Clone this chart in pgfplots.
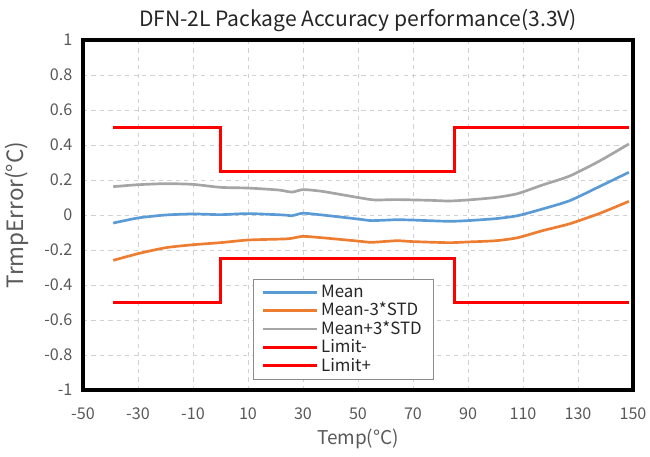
\documentclass[border=0pt]{standalone}
\usepackage{fontspec}
\setmainfont{Noto Sans CJK SC}
\usepackage{pgfplots}
\pgfplotsset{compat=1.18}
\definecolor{cmean}{HTML}{5B9BD5}
\definecolor{clow}{HTML}{ED7D31}
\definecolor{chigh}{HTML}{A5A5A5}
\definecolor{txt}{HTML}{595959}

\begin{document}
\begin{tikzpicture}[x=0.025cm,y=0.025cm]
\begin{axis}[
  name=ax,
  width=13.75cm, height=8.75cm, scale only axis,
  xmin=-50, xmax=150, ymin=-1, ymax=1,
  xtick={-50,-30,...,150},
  ytick={-1,-0.8,...,1.01},
  /pgf/number format/assume math mode=true,
  yticklabel style={/pgf/number format/fixed, /pgf/number format/precision=1, xshift=-4pt},
  xticklabel style={yshift=-9pt},
  tick label style={font=\fontsize{11.5}{13}\selectfont, text=txt},
  major tick length=0pt,
  grid=major,
  grid style={dashed, color=black!18},
  axis line style={line width=2.6pt, black},
  title={DFN-2L Package Accuracy performance(3.3V)},
  title style={font=\fontsize{15}{17}\selectfont, text=black!85, yshift=-4pt},
  xlabel={Temp(°C)},
  ylabel={TrmpError(°C)},
  xlabel style={font=\fontsize{13.5}{15}\selectfont, text=txt, yshift=0pt},
  ylabel style={font=\fontsize{16}{18}\selectfont, text=txt, yshift=4pt},
  legend style={at={(0.309,0.317)}, anchor=north west, draw=black!45,
    font=\fontsize{12}{12}\selectfont, text=black!85, row sep=-1.8pt,
    inner xsep=6pt, inner ysep=2pt},
  legend cell align=left,
  legend image code/.code={\draw[#1] (0cm,0cm) -- (1.35cm,0cm);},
  every axis plot/.append style={line width=1.9pt},
]
\addplot[cmean, smooth, tension=0.4] coordinates {
 (-39,-0.046) (-30,-0.017) (-20,0.0) (-10,0.006) (0,0.002) (10,0.008)
 (23,0.0) (26,-0.004) (30,0.01) (37,0.0) (50,-0.023) (55,-0.032)
 (64,-0.027) (70,-0.029) (83,-0.036) (90,-0.032) (100,-0.021)
 (108,-0.004) (117,0.034) (127,0.082) (138,0.164) (148.5,0.244)
};
\addlegendentry{Mean}
\addplot[clow, smooth, tension=0.4] coordinates {
 (-39,-0.259) (-30,-0.221) (-20,-0.187) (-10,-0.17) (0,-0.158) (10,-0.143)
 (23,-0.137) (26,-0.133) (30,-0.122) (37,-0.13) (50,-0.149) (55,-0.156)
 (64,-0.147) (70,-0.152) (83,-0.158) (90,-0.154) (100,-0.147)
 (108,-0.13) (117,-0.09) (127,-0.05) (138,0.01) (148.5,0.078)
};
\addlegendentry{Mean-3*STD}
\addplot[chigh, smooth, tension=0.4] coordinates {
 (-39,0.162) (-30,0.173) (-20,0.179) (-10,0.175) (0,0.158) (10,0.154)
 (21,0.143) (26,0.131) (30,0.145) (37,0.135) (50,0.10) (56,0.086)
 (64,0.088) (76,0.084) (83,0.08) (90,0.086) (100,0.10)
 (108,0.122) (117,0.171) (127,0.223) (138,0.31) (148.5,0.406)
};
\addlegendentry{Mean+3*STD}
\addplot[red] coordinates {
 (-39,-0.5) (0,-0.5) (0,-0.25) (85,-0.25) (85,-0.5) (148.5,-0.5)
};
\addlegendentry{Limit-}
\addplot[red] coordinates {
 (-39,0.5) (0,0.5) (0,0.25) (85,0.25) (85,0.5) (148.5,0.5)
};
\addlegendentry{Limit+}
\end{axis}
\pgfresetboundingbox
\path[use as bounding box] ([shift={(-83,-67)}]ax.south west) rectangle ([shift={(17,40)}]ax.north east);
\end{tikzpicture}
\end{document}
